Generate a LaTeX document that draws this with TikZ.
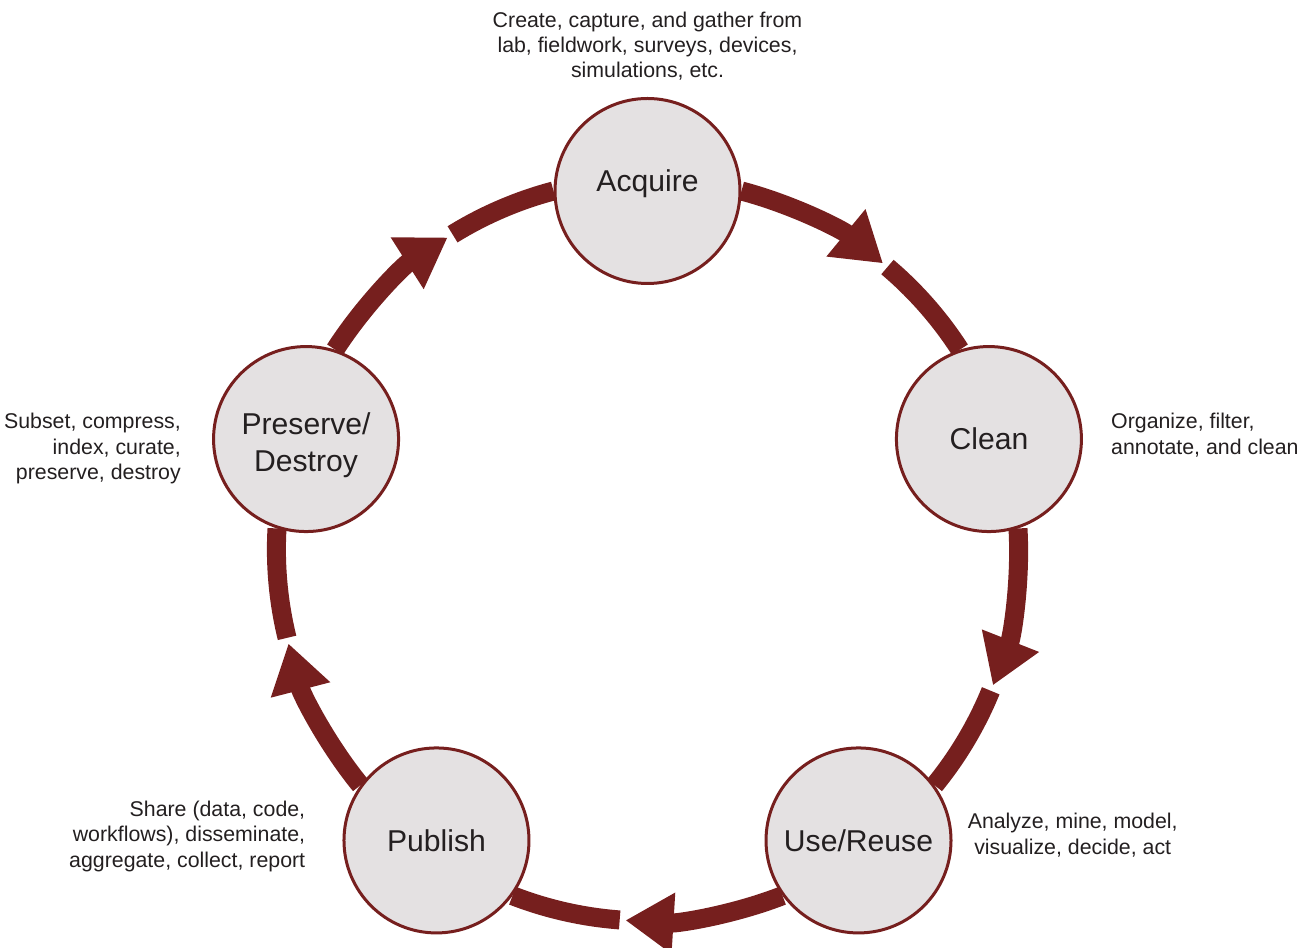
\documentclass[tikz,border=0pt]{standalone}
\usepackage{fontspec}
\setmainfont{Liberation Sans}
\usepackage{tikz}
\usetikzlibrary{arrows.meta,backgrounds,positioning}
\definecolor{redi}{RGB}{118,31,30}
\definecolor{greyi}{RGB}{228,225,226}
\definecolor{texti}{RGB}{35,31,32}
\tikzset{
      mystage/.style={
        circle,
        draw=redi,
        fill=greyi,
        line width=2.25pt,
        minimum size=138.75pt,
        inner sep=0pt,
        align=center,
        text=texti,
        font=\fontsize{22.6}{27.75}\selectfont
      },
      mydesc/.style={
        inner sep=0pt,
        align=#1,
        text=texti,
        font=\fontsize{16}{19.1}\selectfont
      },
      myflow/.style={
        draw=redi,
        line width=14.25pt,
        looseness=0.85,
        -{Triangle[width=43.5pt,length=36pt]}
      },
      myline/.style={
        draw=redi,
        line width=14.25pt,
        looseness=0.85
      },
    }
\begin{document}
\begin{tikzpicture}[x=0.75pt,y=0.75pt]
          \useasboundingbox (-647.5,-398) rectangle (654.5,550);
          \coordinate (hub) at (0,0);

          \node[mystage,text depth=15pt] (stage1) at (90:359) {Acquire};
          \node[mystage] (stage2) at (18:359) {Clean};
          \node[mystage] (stage3) at (-54:359) {Use/Reuse};
          \node[mystage] (stage4) at (-126:359) {Publish};
          \node[mystage,text height=53.5pt] (stage5) at (162:359) {Preserve/\\Destroy};

          \node[mydesc=center,above=12pt of stage1]
            (desc1)
            {Create, capture, and gather from\\lab, fieldwork, surveys, devices,\\simulations, etc.};
          \node[mydesc=left,right=21pt of stage2,yshift=3pt]
            (desc2)
            {Organize, filter,\\annotate, and clean};
          \node[mydesc=center,right=11.25pt of stage3,yshift=4pt]
            (desc3)
            {Analyze, mine, model,\\visualize, decide, act};
          \node[mydesc=right,left=27.75pt of stage4,yshift=3pt]
            (desc4)
            {Share (data, code,\\workflows), disseminate,\\aggregate, collect, report};
          \node[mydesc=right,left=23.25pt of stage5,yshift=-7.25pt]
            (desc5)
            {Subset, compress,\\index, curate,\\preserve, destroy};

          % arrow heads and restart points on the ring
          \coordinate (tip1) at (50.6:371);
          \coordinate (resume1) at (49.7:371);
          \coordinate (tip2) at (-21.4:371);
          \coordinate (resume2) at (-22.3:371);
          \coordinate (tip3) at (-93.4:371);
          \coordinate (resume3) at (-94.3:371);
          \coordinate (tip4) at (194.6:371);
          \coordinate (resume4) at (193.7:371);
          \coordinate (tip5) at (122.6:371);
          \coordinate (resume5) at (121.7:371);

          \begin{pgfonlayer}{background}
          \draw[myflow] (stage1.0) to[bend left=12.4] (tip1);
          \draw[myline] (resume1) to[bend left=8.55] (stage2.108);
          \draw[myflow] (stage2.288) to[bend left=12.4] (tip2);
          \draw[myline] (resume2) to[bend left=8.55] (stage3.36);
          \draw[myflow] (stage3.216) to[bend left=12.4] (tip3);
          \draw[myline] (resume3) to[bend left=8.55] (stage4.324);
          \draw[myflow] (stage4.144) to[bend left=12.4] (tip4);
          \draw[myline] (resume4) to[bend left=8.55] (stage5.252);
          \draw[myflow] (stage5.72) to[bend left=12.4] (tip5);
          \draw[myline] (resume5) to[bend left=8.55] (stage1.180);
          \end{pgfonlayer}
        \end{tikzpicture}
\end{document}
